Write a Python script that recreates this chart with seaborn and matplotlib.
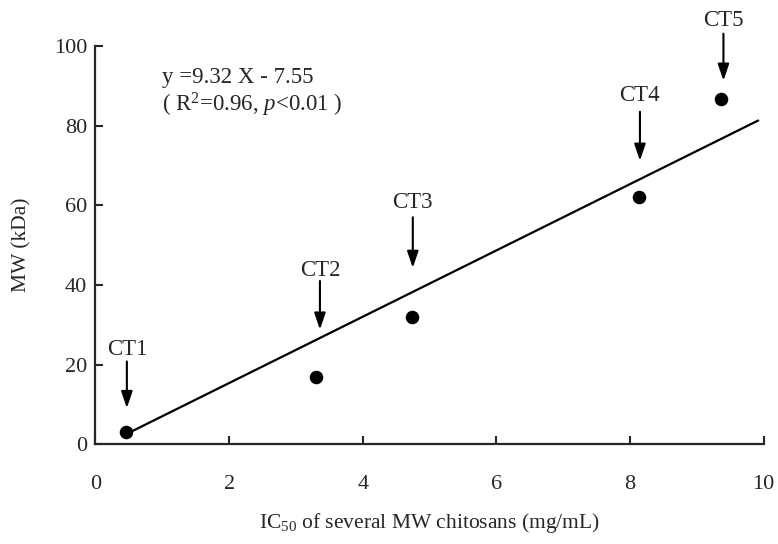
import matplotlib
matplotlib.use("Agg")
import matplotlib.pyplot as plt
import seaborn as sns
import pandas as pd

# data
labels = ["CT1", "CT2", "CT3", "CT4", "CT5"]
ic50 = [0.45, 3.30, 4.74, 8.14, 9.37]
mw = [3.2, 17.0, 31.9, 62.0, 86.7]

# fitted line as drawn in the figure
fit_x = [0.49, 9.92]
fit_y = [2.8, 81.3]

x_ticks = [0, 2, 4, 6, 8, 10]
y_ticks = [0, 20, 40, 60, 80, 100]

sns.set_style("ticks")
plt.rcParams["font.family"] = ["Liberation Serif", "DejaVu Serif"]
plt.rcParams["mathtext.fontset"] = "custom"
plt.rcParams["mathtext.rm"] = "Liberation Serif"
plt.rcParams["mathtext.it"] = "Liberation Serif:italic"

df = pd.DataFrame({"ic50": ic50, "mw": mw, "label": labels})
df_fit = pd.DataFrame({"x": fit_x, "y": fit_y})

fig = plt.figure(figsize=(7.78, 5.44), dpi=100)
ax = fig.add_axes([0.1227, 0.1833, 0.8587, 0.7321])

sns.lineplot(data=df_fit, x="x", y="y", color="black", linewidth=1.6, ax=ax)
sns.scatterplot(data=df, x="ic50", y="mw", color="black", s=95, edgecolor="black",
                linewidth=0, zorder=3, ax=ax, clip_on=False)

# label x, text y, arrow top, arrow tip
ann = {
    "CT1": (0.47, 23.8, 20.8, 9.1),
    "CT2": (3.36, 43.7, 41.0, 28.8),
    "CT3": (4.75, 60.8, 57.0, 44.3),
    "CT4": (8.15, 87.6, 83.5, 71.2),
    "CT5": (9.40, 106.4, 103.1, 91.3),
}
for lab in labels:
    x, ty, top, tip = ann[lab]
    ax.text(x, ty, lab, ha="center", va="center", fontsize=16.5, clip_on=False)
    ax.annotate("", xy=(x, tip), xytext=(x, top),
                arrowprops=dict(arrowstyle="-|>,head_length=1.0,head_width=0.34",
                                color="black", lw=1.5, shrinkA=0, shrinkB=0),
                annotation_clip=False)

ax.text(1.0, 92.0, "y =9.32 X - 7.55", fontsize=16.5, va="center", ha="left")
ax.text(1.0, 85.2, "( R$^{2}$=0.96, $\\it{p}$<0.01 )", fontsize=16.5, va="center", ha="left")

ax.set_xlim(0, 10)
ax.set_ylim(0, 100)
ax.set_xticks(x_ticks)
ax.set_yticks(y_ticks)
ax.tick_params(axis="both", direction="in", length=6, width=1.5, labelsize=16)
ax.tick_params(axis="x", pad=22)
ax.tick_params(axis="y", pad=6)
sns.despine(ax=ax)
for sp in ["left", "bottom"]:
    ax.spines[sp].set_linewidth(1.6)

ax.set_xlabel("IC$_{50}$ of several MW chitosans (mg/mL)", fontsize=15.5, va="center")
ax.set_ylabel("MW (kDa)", fontsize=15.5, va="center")
ax.xaxis.set_label_coords(0.50, -0.198)
ax.yaxis.set_label_coords(-0.110, 0.50)

fig.savefig("out.png", dpi=100)
